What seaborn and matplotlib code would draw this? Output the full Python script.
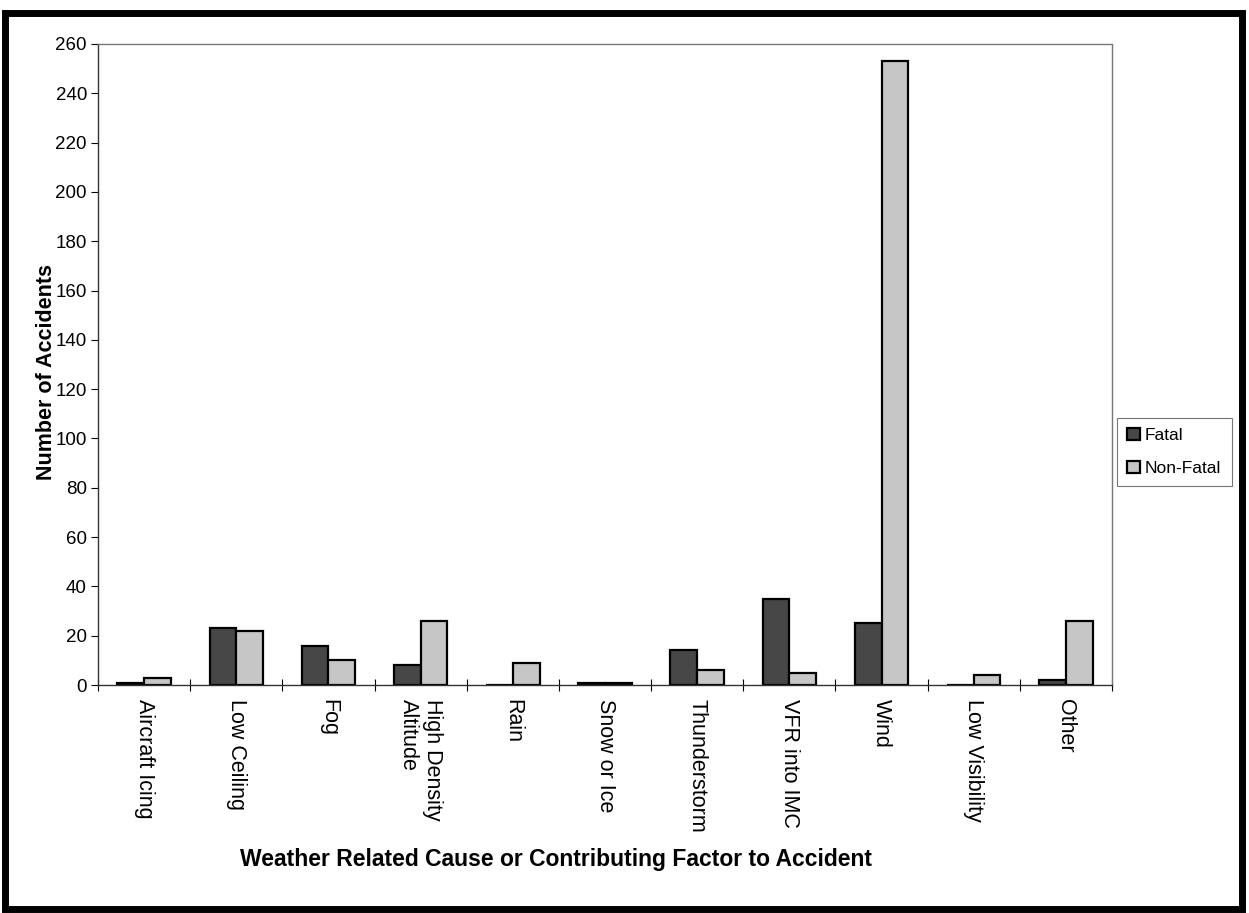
import matplotlib
matplotlib.use("Agg")
import matplotlib.pyplot as plt
import seaborn as sns
import pandas as pd
import numpy as np
from matplotlib.patches import Rectangle

categories = ["Aircraft Icing", "Low Ceiling", "Fog", "High Density\nAltitude", "Rain",
              "Snow or Ice", "Thunderstorm", "VFR into IMC", "Wind", "Low Visibility", "Other"]
fatal = [1, 23, 16, 8, 0, 1, 14, 35, 25, 0, 2]
non_fatal = [3, 22, 10, 26, 9, 1, 6, 5, 253, 4, 26]
series_names = ["Fatal", "Non-Fatal"]
y_ticks = list(range(0, 261, 20))

df = pd.DataFrame({
    "Category": categories * 2,
    "Series": [series_names[0]] * len(categories) + [series_names[1]] * len(categories),
    "Value": fatal + non_fatal,
})

sns.set_theme(style="white")
plt.rcParams["font.family"] = ["Liberation Sans", "DejaVu Sans"]
plt.rcParams["text.color"] = "black"
plt.rcParams["axes.labelcolor"] = "black"
plt.rcParams["xtick.color"] = "black"
plt.rcParams["ytick.color"] = "black"

fig = plt.figure(figsize=(12.49, 9.13), dpi=100)
ax = fig.add_axes([98 / 1249, 1 - 685 / 913, (1112 - 98) / 1249, (685 - 44) / 913])

palette = {"Fatal": "#474747", "Non-Fatal": "#c6c6c6"}
sns.barplot(data=df, x="Category", y="Value", hue="Series", order=categories,
            hue_order=series_names, palette=palette, width=0.58, dodge=True,
            edgecolor="black", linewidth=1.6, saturation=1, ax=ax)

n = len(categories)
ax.set_xlim(-0.5, n - 0.5)
ax.set_ylim(0, 260)
ax.set_yticks(y_ticks)
ax.set_yticklabels([str(t) for t in y_ticks], fontsize=13.5)
ax.tick_params(axis="y", direction="out", length=5, width=0.8, color="black", pad=3, left=True)

ax.set_xticks(np.arange(n + 1) - 0.5)
ax.set_xticklabels([])
ax.tick_params(axis="x", which="major", direction="inout", length=8, width=0.8, color="black", bottom=True)
ax.set_xticks(np.arange(n), minor=True)
ax.set_xticklabels(categories, minor=True, rotation=270, fontsize=15.5, ha="center", va="top",
                   multialignment="left")
ax.tick_params(axis="x", which="minor", length=0, pad=10)

ax.set_xlabel("Weather Related Cause or Contributing Factor to Accident", fontsize=16.5,
              fontweight="bold")
ax.set_ylabel("Number of Accidents", fontsize=15.5, fontweight="bold")
ax.xaxis.set_label_coords((556 - 98) / (1112 - 98), -(848 - 685) / (685 - 44))
ax.yaxis.set_label_coords(-(98 - 57) / (1112 - 98), (685 - 372) / (685 - 44))

for side in ["top", "right"]:
    ax.spines[side].set_visible(True)
    ax.spines[side].set_color("#777777")
    ax.spines[side].set_linestyle((0, (1, 1)))
    ax.spines[side].set_linewidth(1.0)
ax.spines["left"].set_color("#333333")
ax.spines["left"].set_linewidth(1.0)
ax.spines["bottom"].set_color("#333333")
ax.spines["bottom"].set_linewidth(1.0)
ax.grid(False)

leg = ax.legend(loc="center left", bbox_to_anchor=(1117 / 1249, 1 - 452 / 913),
                bbox_transform=fig.transFigure, frameon=True, fancybox=False,
                fontsize=12.5, handlelength=0.7, handleheight=0.7, handletextpad=0.3,
                borderpad=0.6, labelspacing=1.0, borderaxespad=0)
leg.get_frame().set_edgecolor("#555555")
leg.get_frame().set_linewidth(0.8)
leg.set_title(None)

fig.patches.append(Rectangle((0.004, 0.004), 0.99, 0.982, transform=fig.transFigure,
                             fill=False, edgecolor="black", linewidth=5))

fig.savefig("out.png", dpi=100)
